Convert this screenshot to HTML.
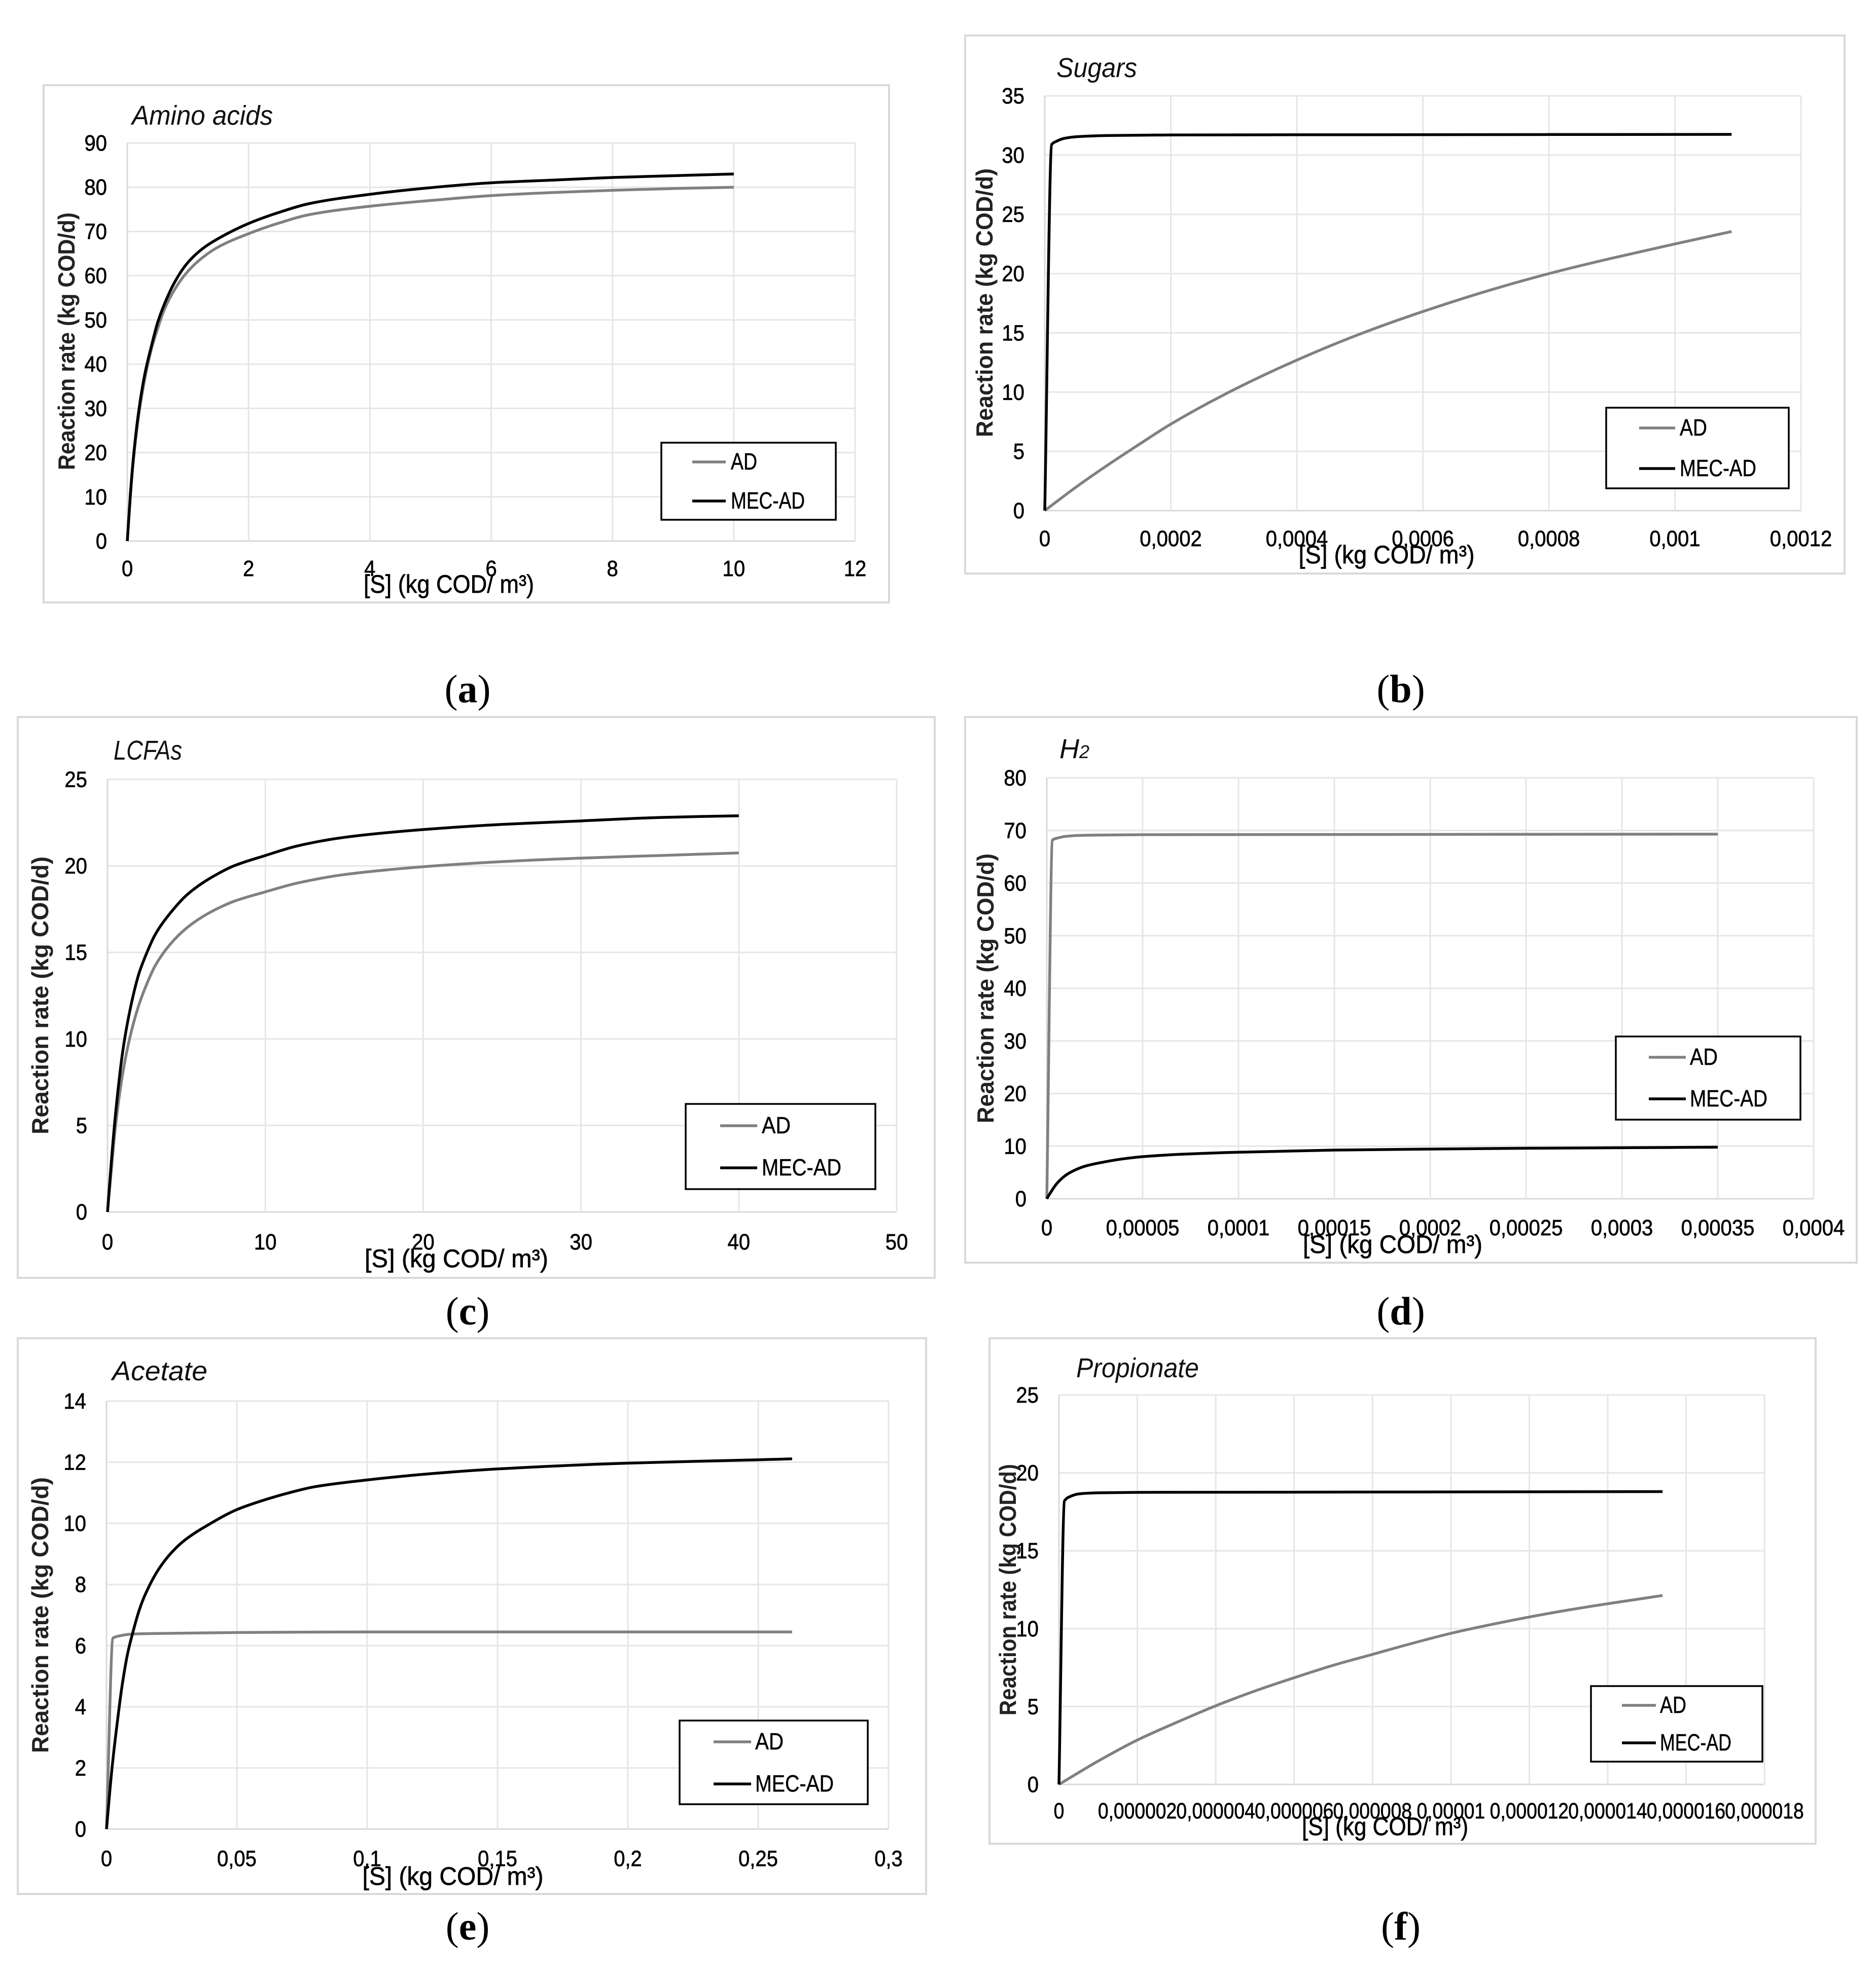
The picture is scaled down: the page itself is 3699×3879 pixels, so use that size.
<!DOCTYPE html>
<html lang="en">
<head>
<meta charset="utf-8">
<title>Reaction rate curves</title>
<style>
html,body{margin:0;padding:0;background:#fff;}
svg{display:block;font-family:"Liberation Sans",sans-serif;}
.frame{fill:#fff;stroke:#d9d9d9;stroke-width:4;}
.title{font-size:54px;font-style:italic;fill:#111;}
.axis-title-x{font-size:50px;fill:#000;stroke:#000;stroke-width:0.7;text-anchor:middle;}
.axis-title-y{font-size:46px;font-weight:bold;fill:#222;text-anchor:middle;}
.legend-box{fill:#fff;stroke:#000;stroke-width:3.5;}
.legend-text{font-size:46px;fill:#000;stroke:#000;stroke-width:0.5;}
.ad{stroke:#808080;stroke-width:5.5;fill:none;stroke-linejoin:round;stroke-linecap:butt;}
.mec{stroke:#000;stroke-width:5.5;fill:none;stroke-linejoin:round;stroke-linecap:butt;}
.caption{font-family:"Liberation Serif",serif;font-size:78px;fill:#000;text-anchor:middle;}
.caption tspan{font-weight:bold;}
.tick{font-size:44px;fill:#000;stroke:#000;stroke-width:0.7;}
</style>
</head>
<body>
<svg xmlns="http://www.w3.org/2000/svg" width="3699" height="3879" viewBox="0 0 3699 3879">

<g>
  <rect class="frame" x="86" y="168" width="1667" height="1020"/>
  <text class="title" x="260" y="246" textLength="278" lengthAdjust="spacingAndGlyphs">Amino acids</text>
  <g id="plot-a"></g>
  <text class="axis-title-x" x="885" y="1169" textLength="336" lengthAdjust="spacingAndGlyphs">[S] (kg COD/ m³)</text>
  <text class="axis-title-y" transform="translate(147 673) rotate(-90)" textLength="508" lengthAdjust="spacingAndGlyphs">Reaction rate  (kg COD/d)</text>
  <g>
    <rect class="legend-box" x="1304" y="873" width="344" height="152"/>
    <line class="ad" x1="1365" y1="911" x2="1431" y2="911"/>
    <text class="legend-text" x="1441" y="926" textLength="52" lengthAdjust="spacingAndGlyphs">AD</text>
    <line class="mec" x1="1365" y1="988" x2="1431" y2="988"/>
    <text class="legend-text" x="1441" y="1003" textLength="146" lengthAdjust="spacingAndGlyphs">MEC-AD</text>
  </g>
</g>
<text class="caption" x="922" y="1385">(<tspan>a</tspan>)</text>

<g>
  <rect class="frame" x="1903" y="70" width="1734" height="1061"/>
  <text class="title" x="2083" y="152" textLength="159" lengthAdjust="spacingAndGlyphs">Sugars</text>
  <g id="plot-b"></g>
  <text class="axis-title-x" x="2734" y="1111" textLength="347" lengthAdjust="spacingAndGlyphs">[S] (kg COD/ m³)</text>
  <text class="axis-title-y" transform="translate(1957 597) rotate(-90)" textLength="530" lengthAdjust="spacingAndGlyphs">Reaction rate  (kg COD/d)</text>
  <g>
    <rect class="legend-box" x="3167" y="804" width="360" height="159"/>
    <line class="ad" x1="3232" y1="844" x2="3303" y2="844"/>
    <text class="legend-text" x="3312" y="859" textLength="54" lengthAdjust="spacingAndGlyphs">AD</text>
    <line class="mec" x1="3232" y1="924" x2="3303" y2="924"/>
    <text class="legend-text" x="3312" y="939" textLength="151" lengthAdjust="spacingAndGlyphs">MEC-AD</text>
  </g>
</g>
<text class="caption" x="2762" y="1385">(<tspan>b</tspan>)</text>

<g>
  <rect class="frame" x="35" y="1414" width="1808" height="1106"/>
  <text class="title" x="224" y="1498" textLength="135" lengthAdjust="spacingAndGlyphs">LCFAs</text>
  <g id="plot-c"></g>
  <text class="axis-title-x" x="900" y="2499" textLength="362" lengthAdjust="spacingAndGlyphs">[S] (kg COD/ m³)</text>
  <text class="axis-title-y" transform="translate(95 1963) rotate(-90)" textLength="548" lengthAdjust="spacingAndGlyphs">Reaction rate  (kg COD/d)</text>
  <g>
    <rect class="legend-box" x="1352" y="2177" width="374" height="168"/>
    <line class="ad" x1="1420" y1="2220" x2="1493" y2="2220"/>
    <text class="legend-text" x="1502" y="2235" textLength="57" lengthAdjust="spacingAndGlyphs">AD</text>
    <line class="mec" x1="1420" y1="2303" x2="1493" y2="2303"/>
    <text class="legend-text" x="1502" y="2318" textLength="157" lengthAdjust="spacingAndGlyphs">MEC-AD</text>
  </g>
</g>
<text class="caption" x="922" y="2612">(<tspan>c</tspan>)</text>

<g>
  <rect class="frame" x="1903" y="1414" width="1758" height="1076"/>
  <text class="title" x="2089" y="1495">H<tspan font-size="36">2</tspan></text>
  <g id="plot-d"></g>
  <text class="axis-title-x" x="2746" y="2471" textLength="354" lengthAdjust="spacingAndGlyphs">[S] (kg COD/ m³)</text>
  <text class="axis-title-y" transform="translate(1959 1949) rotate(-90)" textLength="532" lengthAdjust="spacingAndGlyphs">Reaction rate  (kg COD/d)</text>
  <g>
    <rect class="legend-box" x="3186" y="2044" width="364" height="164"/>
    <line class="ad" x1="3251" y1="2085" x2="3324" y2="2085"/>
    <text class="legend-text" x="3332" y="2100" textLength="55" lengthAdjust="spacingAndGlyphs">AD</text>
    <line class="mec" x1="3251" y1="2167" x2="3324" y2="2167"/>
    <text class="legend-text" x="3332" y="2182" textLength="153" lengthAdjust="spacingAndGlyphs">MEC-AD</text>
  </g>
</g>
<text class="caption" x="2762" y="2612">(<tspan>d</tspan>)</text>

<g>
  <rect class="frame" x="35" y="2639" width="1791" height="1096"/>
  <text class="title" x="221" y="2722" textLength="188" lengthAdjust="spacingAndGlyphs">Acetate</text>
  <g id="plot-e"></g>
  <text class="axis-title-x" x="893" y="3717" textLength="357" lengthAdjust="spacingAndGlyphs">[S] (kg COD/ m³)</text>
  <text class="axis-title-y" transform="translate(95 3185) rotate(-90)" textLength="544" lengthAdjust="spacingAndGlyphs">Reaction rate  (kg COD/d)</text>
  <g>
    <rect class="legend-box" x="1340" y="3393" width="371" height="165"/>
    <line class="ad" x1="1407" y1="3435" x2="1481" y2="3435"/>
    <text class="legend-text" x="1489" y="3450" textLength="56" lengthAdjust="spacingAndGlyphs">AD</text>
    <line class="mec" x1="1407" y1="3518" x2="1481" y2="3518"/>
    <text class="legend-text" x="1489" y="3533" textLength="155" lengthAdjust="spacingAndGlyphs">MEC-AD</text>
  </g>
</g>
<text class="caption" x="922" y="3825">(<tspan>e</tspan>)</text>

<g>
  <rect class="frame" x="1951" y="2639" width="1629" height="997"/>
  <text class="title" x="2122" y="2716" textLength="242" lengthAdjust="spacingAndGlyphs">Propionate</text>
  <g id="plot-f"></g>
  <text class="axis-title-x" x="2731" y="3619" textLength="328" lengthAdjust="spacingAndGlyphs">[S] (kg COD/ m³)</text>
  <text class="axis-title-y" transform="translate(2003 3135) rotate(-90)" textLength="496" lengthAdjust="spacingAndGlyphs">Reaction rate  (kg COD/d)</text>
  <g>
    <rect class="legend-box" x="3137" y="3325" width="338" height="149"/>
    <line class="ad" x1="3198" y1="3363" x2="3265" y2="3363"/>
    <text class="legend-text" x="3273" y="3378" textLength="52" lengthAdjust="spacingAndGlyphs">AD</text>
    <line class="mec" x1="3198" y1="3437" x2="3265" y2="3437"/>
    <text class="legend-text" x="3273" y="3452" textLength="141" lengthAdjust="spacingAndGlyphs">MEC-AD</text>
  </g>
</g>
<text class="caption" x="2762" y="3825">(<tspan>f</tspan>)</text>
</svg>

<script>
// Panel (a) Amino acids
const aXTicks = [0, 2, 4, 6, 8, 10, 12];
const aYTicks = [0, 10, 20, 30, 40, 50, 60, 70, 80, 90];
const aAdS = [0, 0.05, 0.1, 0.2, 0.3, 0.4, 0.5, 0.6, 0.8, 1, 1.25, 1.5, 2, 2.5, 3, 4, 5, 6, 7, 8, 9, 10];
const aAdRate = [0, 10, 18.2, 29.5, 37.5, 43.5, 48, 52, 57.3, 61, 64.2, 66.5, 69.5, 71.9, 73.8, 75.7, 77, 78.1, 78.8, 79.3, 79.7, 80];
const aMecS = [0, 0.05, 0.1, 0.2, 0.3, 0.4, 0.5, 0.6, 0.8, 1, 1.25, 1.5, 2, 2.5, 3, 4, 5, 6, 7, 8, 9, 10];
const aMecRate = [0, 10.5, 18.8, 30.5, 38.5, 44.2, 49.4, 53.2, 59, 63, 66.2, 68.4, 71.8, 74.3, 76.3, 78.4, 79.9, 81, 81.6, 82.2, 82.6, 83];

// Panel (b) Sugars
const bXTicks = [0, 0.0002, 0.0004, 0.0006, 0.0008, 0.001, 0.0012];
const bYTicks = [0, 5, 10, 15, 20, 25, 30, 35];
const bAdS = [0, 0.00005, 0.0001, 0.00015, 0.0002, 0.0003, 0.0004, 0.0005, 0.0006, 0.0007, 0.0008, 0.0009, 0.001, 0.00109];
const bAdRate = [0, 2, 3.85, 5.6, 7.3, 10.2, 12.7, 14.9, 16.8, 18.5, 20, 21.3, 22.5, 23.55];
const bMecS = [0, 0.000011, 0.00002, 0.00003, 0.00005, 0.0001, 0.0002, 0.0005, 0.00109];
const bMecRate = [0, 30.9, 31.2, 31.4, 31.55, 31.65, 31.7, 31.72, 31.75];

// Panel (c) LCFAs
const cXTicks = [0, 10, 20, 30, 40, 50];
const cYTicks = [0, 5, 10, 15, 20, 25];
const cAdS = [0, 0.25, 0.5, 1, 1.5, 2, 2.5, 3, 4, 5, 6, 7, 8, 10, 12, 15, 20, 25, 30, 35, 40];
const cAdRate = [0, 2.5, 4.9, 8.2, 10.4, 12, 13.2, 14.2, 15.5, 16.4, 17.05, 17.55, 17.95, 18.5, 19, 19.5, 19.95, 20.25, 20.45, 20.6, 20.75];
const cMecS = [0, 0.25, 0.5, 1, 1.5, 2, 2.5, 3, 4, 5, 6, 7, 8, 10, 12, 15, 20, 25, 30, 35, 40];
const cMecRate = [0, 3, 5.6, 9.5, 12, 13.8, 15, 16, 17.3, 18.3, 19, 19.55, 20, 20.6, 21.15, 21.65, 22.1, 22.4, 22.6, 22.8, 22.9];

// Panel (d) H2
const dXTicks = [0, 0.00005, 0.0001, 0.00015, 0.0002, 0.00025, 0.0003, 0.00035, 0.0004];
const dYTicks = [0, 10, 20, 30, 40, 50, 60, 70, 80];
const dAdS = [0, 0.000003, 0.000005, 0.00001, 0.00002, 0.00005, 0.00035];
const dAdRate = [0, 68.2, 68.5, 68.9, 69.1, 69.2, 69.3];
const dMecS = [0, 0.000002, 0.000004, 0.000006, 0.000008, 0.00001, 0.000015, 0.00002, 0.00003, 0.00004, 0.00005, 0.00007, 0.0001, 0.00015, 0.0002, 0.00025, 0.0003, 0.00035];
const dMecRate = [0, 1.2, 2.3, 3.2, 3.9, 4.5, 5.5, 6.2, 7, 7.6, 8, 8.45, 8.85, 9.25, 9.45, 9.6, 9.7, 9.8];

// Panel (e) Acetate
const eXTicks = [0, 0.05, 0.1, 0.15, 0.2, 0.25, 0.3];
const eYTicks = [0, 2, 4, 6, 8, 10, 12, 14];
const eAdS = [0, 0.0025, 0.005, 0.01, 0.02, 0.05, 0.1, 0.263];
const eAdRate = [0, 6.25, 6.32, 6.38, 6.4, 6.43, 6.45, 6.45];
const eMecS = [0, 0.002, 0.004, 0.006, 0.008, 0.01, 0.0125, 0.015, 0.02, 0.025, 0.03, 0.04, 0.05, 0.06, 0.07, 0.08, 0.1, 0.125, 0.15, 0.2, 0.25, 0.263];
const eMecRate = [0, 1.9, 3.4, 4.7, 5.7, 6.4, 7.15, 7.7, 8.5, 9.05, 9.45, 10, 10.45, 10.75, 11, 11.2, 11.42, 11.63, 11.78, 11.97, 12.08, 12.11];

// Panel (f) Propionate
const fXTicks = [0, 0.000002, 0.000004, 0.000006, 0.000008, 0.00001, 0.000012, 0.000014, 0.000016, 0.000018];
const fYTicks = [0, 5, 10, 15, 20, 25];
const fAdS = [0, 0.000001, 0.000002, 0.000003, 0.000004, 0.000005, 0.000006, 0.000007, 0.000008, 0.000009, 0.00001, 0.000011, 0.000012, 0.000013, 0.000014, 0.0000154];
const fAdRate = [0, 1.5, 2.85, 3.98, 5.05, 6, 6.85, 7.65, 8.35, 9.05, 9.7, 10.25, 10.75, 11.2, 11.6, 12.13];
const fMecS = [0, 0.00000014, 0.0000003, 0.0000005, 0.000001, 0.000002, 0.0000154];
const fMecRate = [0, 18.2, 18.5, 18.65, 18.72, 18.75, 18.8];

const NS = 'http://www.w3.org/2000/svg';

function makeEl(tag, cls) {
  const el = document.createElementNS(NS, tag);
  if (cls) el.setAttribute('class', cls);
  return el;
}

function tickText(v) {
  return String(v).replace('.', ',');
}

function tickWidth(label, scale) {
  let w = 0;
  for (const ch of label) w += ch === ',' ? 11 : 22.3;
  return w * scale;
}

// Monotone cubic path through the data points (screen coordinates come from the axis functions).
function curvePath(xs, ys, sx, sy) {
  const px = xs.map(sx);
  const py = ys.map(sy);
  const n = px.length;
  const h = [];
  const m = [];
  for (let i = 0; i < n - 1; i++) {
    h.push(px[i + 1] - px[i]);
    m.push((py[i + 1] - py[i]) / h[i]);
  }
  const t = [m[0]];
  for (let i = 1; i < n - 1; i++) {
    if (m[i - 1] * m[i] <= 0) {
      t.push(0);
    } else {
      const w1 = 2 * h[i] + h[i - 1];
      const w2 = h[i] + 2 * h[i - 1];
      t.push((w1 + w2) / (w1 / m[i - 1] + w2 / m[i]));
    }
  }
  t.push(m[n - 2]);
  let d = 'M' + px[0].toFixed(1) + ' ' + py[0].toFixed(1);
  for (let i = 0; i < n - 1; i++) {
    const c1x = px[i] + h[i] / 3;
    const c1y = py[i] + t[i] * h[i] / 3;
    const c2x = px[i + 1] - h[i] / 3;
    const c2y = py[i + 1] - t[i + 1] * h[i] / 3;
    d += 'C' + c1x.toFixed(1) + ' ' + c1y.toFixed(1) + ' ' + c2x.toFixed(1) + ' ' + c2y.toFixed(1) + ' ' + px[i + 1].toFixed(1) + ' ' + py[i + 1].toFixed(1);
  }
  return d;
}

function drawPanel(id, box, labelY, tickScale, xTicks, yTicks, adS, adRate, mecS, mecRate) {
  const root = document.getElementById('plot-' + id);
  const xMax = xTicks[xTicks.length - 1];
  const yMax = yTicks[yTicks.length - 1];
  const sx = v => box.left + v / xMax * (box.right - box.left);
  const sy = v => box.bottom - v / yMax * (box.bottom - box.top);

  yTicks.forEach(v => {
    const grid = makeEl('line');
    
    
    grid.setAttribute('x1', box.left);
    grid.setAttribute('x2', box.right);
    grid.setAttribute('y1', sy(v));
    grid.setAttribute('y2', sy(v));
    grid.setAttribute('stroke', v === 0 ? '#d9d9d9' : '#e6e6e6');
    grid.setAttribute('stroke-width', '3');
    root.appendChild(grid);

    const lab = makeEl('text', 'tick');
    
    
    const s = tickText(v);
    lab.setAttribute('x', box.left - 40);
    lab.setAttribute('y', sy(v) + 15);
    lab.setAttribute('text-anchor', 'end');
    lab.setAttribute('textLength', tickWidth(s, 1));
    lab.setAttribute('lengthAdjust', 'spacingAndGlyphs');
    lab.textContent = s;
    root.appendChild(lab);
  });

  xTicks.forEach(v => {
    const grid = makeEl('line');
    
    
    grid.setAttribute('x1', sx(v));
    grid.setAttribute('x2', sx(v));
    grid.setAttribute('y1', box.top);
    grid.setAttribute('y2', box.bottom);
    grid.setAttribute('stroke', v === 0 ? '#d9d9d9' : '#e6e6e6');
    grid.setAttribute('stroke-width', '3');
    root.appendChild(grid);

    const lab = makeEl('text', 'tick');
    
    
    const s = tickText(v);
    lab.setAttribute('x', sx(v));
    lab.setAttribute('y', labelY + 14);
    lab.setAttribute('text-anchor', 'middle');
    lab.setAttribute('textLength', tickWidth(s, tickScale));
    lab.setAttribute('lengthAdjust', 'spacingAndGlyphs');
    lab.textContent = s;
    root.appendChild(lab);
  });

  const ad = makeEl('path', 'ad');
  
  
  ad.setAttribute('d', curvePath(adS, adRate, sx, sy));
  root.appendChild(ad);

  const mec = makeEl('path', 'mec');
  
  
  mec.setAttribute('d', curvePath(mecS, mecRate, sx, sy));
  root.appendChild(mec);
}

drawPanel('a', {left: 251, right: 1686, top: 282, bottom: 1067}, 1122, 1, aXTicks, aYTicks, aAdS, aAdRate, aMecS, aMecRate);
drawPanel('b', {left: 2060, right: 3551, top: 189, bottom: 1007}, 1063, 1, bXTicks, bYTicks, bAdS, bAdRate, bMecS, bMecRate);
drawPanel('c', {left: 212, right: 1768, top: 1537, bottom: 2390}, 2450, 1, cXTicks, cYTicks, cAdS, cAdRate, cMecS, cMecRate);
drawPanel('d', {left: 2064, right: 3576, top: 1534, bottom: 2364}, 2422, 1, dXTicks, dYTicks, dAdS, dAdRate, dMecS, dMecRate);
drawPanel('e', {left: 210, right: 1752, top: 2763, bottom: 3607}, 3666, 1, eXTicks, eYTicks, eAdS, eAdRate, eMecS, eMecRate);
drawPanel('f', {left: 2088, right: 3479, top: 2751, bottom: 3519}, 3572, 0.93, fXTicks, fYTicks, fAdS, fAdRate, fMecS, fMecRate);
</script>
</body>
</html>
